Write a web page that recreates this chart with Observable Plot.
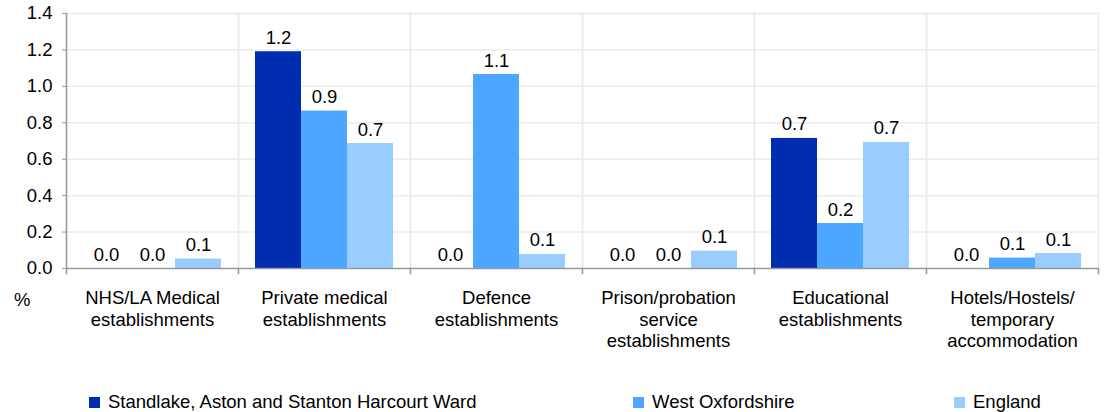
<!DOCTYPE html>
<html>
<head>
<meta charset="utf-8">
<script src="https://cdn.jsdelivr.net/npm/d3@7"></script>
<script src="https://cdn.jsdelivr.net/npm/@observablehq/plot@0.6"></script>
<style>
  html, body { margin: 0; padding: 0; background: #fff; }
  #wrap { position: relative; width: 1104px; height: 412px; font-family: "Liberation Sans", Arial, sans-serif; color: #000; }
  #unit { position: absolute; left: 14px; top: 289px; font-size: 18.5px; }
  .leg { position: absolute; top: 391px; display: flex; align-items: center; font-size: 18.5px; white-space: nowrap; }
  .sw { width: 11px; height: 11px; margin-right: 8px; }
</style>
</head>
<body>
<div id="wrap">
  <div id="chart"></div>
  <div id="unit">%</div>
  <div id="legend"></div>
</div>
<script>
const categories = [
  "NHS/LA Medical\nestablishments",
  "Private medical\nestablishments",
  "Defence\nestablishments",
  "Prison/probation\nservice\nestablishments",
  "Educational\nestablishments",
  "Hotels/Hostels/\ntemporary\naccommodation"
];
const series = ["Standlake, Aston and Stanton Harcourt Ward", "West Oxfordshire", "England"];
const colors = ["#002db0", "#4da6ff", "#99ccff"];
const ward = [0, 1.19, 0, 0, 0.714, 0];
const westOxfordshire = [0, 0.864, 1.065, 0, 0.247, 0.057];
const england = [0.052, 0.686, 0.077, 0.095, 0.692, 0.082];
const yTicks = [0, 0.2, 0.4, 0.6, 0.8, 1.0, 1.2, 1.4];
const legendLeft = [89, 633, 954];

const seriesValues = [ward, westOxfordshire, england];
const data = [];
categories.forEach((c, i) => {
  series.forEach((s, j) => data.push({category: c, series: s, value: seriesValues[j][i]}));
});

const fmt = d3.format(".1f");
const H = 370, MT = 13, MB = 102;
const FS = 18.5;

const chart = Plot.plot({
  width: 1104,
  height: H,
  marginTop: MT,
  marginBottom: MB,
  marginLeft: 66,
  marginRight: 6,
  style: {fontFamily: "Liberation Sans, Arial, sans-serif", fontSize: FS + "px", color: "#000", background: "#fff"},
  fx: {domain: categories, padding: 0},
  x: {domain: series, paddingInner: 0, paddingOuter: 0.35, axis: null},
  y: {domain: [0, 1.4]},
  color: {domain: series, range: colors},
  marks: [
    Plot.ruleY(yTicks.filter(d => d > 0), {stroke: "#ebebeb", strokeWidth: 1.5}),
    Plot.frame({anchor: "left", stroke: "#ebebeb", strokeWidth: 1.5}),
    Plot.frame({anchor: "right", stroke: "#ebebeb", strokeWidth: 1.5}),
    Plot.barY(data, {fx: "category", x: "series", y: "value", fill: "series"}),
    Plot.text(data, {fx: "category", x: "series", y: "value", text: d => fmt(d.value), lineAnchor: "bottom", dy: -8, fontSize: FS, fill: "#000"}),
    Plot.ruleY([0], {stroke: "#999", strokeWidth: 1.5}),
    Plot.frame({anchor: "left", facetAnchor: "left", stroke: "#999", strokeWidth: 1.5}),
    Plot.frame({anchor: "left", stroke: "#999", strokeWidth: 1.5, insetTop: H - MT - MB, insetBottom: -5}),
    Plot.frame({anchor: "right", facetAnchor: "right", stroke: "#999", strokeWidth: 1.5, insetTop: H - MT - MB, insetBottom: -5}),
    Plot.axisY({ticks: yTicks, tickFormat: fmt, tickSize: 4, tickPadding: 10, stroke: "#999", fill: "#000", fontSize: FS, label: null}),
    Plot.axisFx({anchor: "bottom", tickSize: 0, tickPadding: 21, fontSize: FS, lineHeight: 1.14, fill: "#000", label: null})
  ]
});
document.getElementById("chart").appendChild(chart);

const legend = document.getElementById("legend");
series.forEach((s, i) => {
  const item = document.createElement("div");
  item.className = "leg";
  item.style.left = legendLeft[i] + "px";
  const sw = document.createElement("span");
  sw.className = "sw";
  sw.style.background = colors[i];
  const t = document.createElement("span");
  t.textContent = s;
  item.appendChild(sw);
  item.appendChild(t);
  legend.appendChild(item);
});
</script>
</body>
</html>
